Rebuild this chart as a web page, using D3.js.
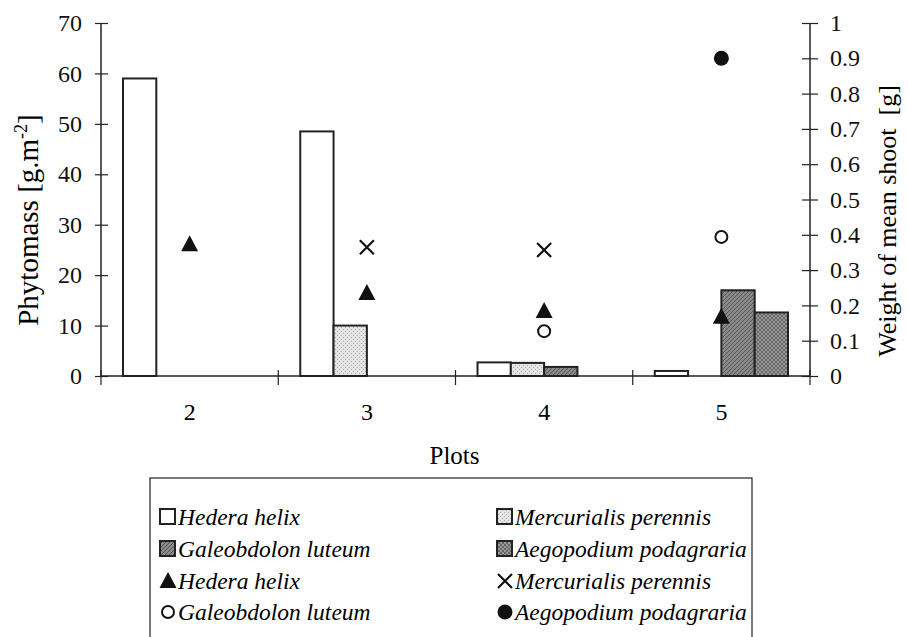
<!DOCTYPE html>
<html>
<head>
<meta charset="utf-8">
<script src="https://cdn.jsdelivr.net/npm/d3@7"></script>
</head>
<body style="margin:0">
<svg id="canvas"></svg>
<script>
// Plots on the x axis
var plots = ['2', '3', '4', '5'];
var species = ['Hedera helix', 'Mercurialis perennis', 'Galeobdolon luteum', 'Aegopodium podagraria'];

// Phytomass [g.m-2], one value per plot (bars, left axis)
var hederaMass = [59, 48.5, 2.7, 1.0];
var mercurialisMass = [0, 10, 2.6, 0];
var galeobdolonMass = [0, 0, 1.8, 17];
var aegopodiumMass = [0, 0, 0, 12.6];

// Weight of mean shoot [g] (markers, right axis)
var hederaWeight = [0.373, 0.235, 0.184, 0.168];
var mercurialisWeight = [null, 0.365, 0.357, null];
var galeobdolonWeight = [null, null, 0.127, 0.394];
var aegopodiumWeight = [null, null, null, 0.90];

var leftTicks = [0, 10, 20, 30, 40, 50, 60, 70];
var rightTicks = [0, 0.1, 0.2, 0.3, 0.4, 0.5, 0.6, 0.7, 0.8, 0.9, 1];

var serif = "'Times New Roman'";

var canvasWidth = 908;
var canvasHeight = 637;
var margin = { top: 23, right: 98, bottom: 261, left: 101 };
var plotW = canvasWidth - margin.left - margin.right;
var plotH = canvasHeight - margin.top - margin.bottom;

var svg = d3.select('#canvas')
  .attr('width', canvasWidth)
  .attr('height', canvasHeight);

// Fill patterns
var defs = svg.append('defs');

function addPattern(id, bg, draw) {
  var p = defs.append('pattern')
    .attr('id', id)
    .attr('patternUnits', 'userSpaceOnUse')
    .attr('width', 4)
    .attr('height', 4);
  p.append('rect').attr('width', 4).attr('height', 4).attr('fill', bg);
  draw(p);
}

addPattern('pat-merc', '#e4e4e4', function(p) {
  p.append('rect').attr('x', 0).attr('y', 0).attr('width', 1).attr('height', 1).attr('fill', '#aaa');
  p.append('rect').attr('x', 2).attr('y', 2).attr('width', 1).attr('height', 1).attr('fill', '#aaa');
});
addPattern('pat-gal', '#8a8a8a', function(p) {
  p.append('path').attr('d', 'M-1,1 L1,-1 M0,4 L4,0 M3,5 L5,3').attr('stroke', '#555').attr('stroke-width', 1);
});
addPattern('pat-aeg', '#999', function(p) {
  p.append('rect').attr('x', 0).attr('y', 0).attr('width', 2).attr('height', 2).attr('fill', '#666');
  p.append('rect').attr('x', 2).attr('y', 2).attr('width', 2).attr('height', 2).attr('fill', '#666');
});

var fills = ['#fff', 'url(#pat-merc)', 'url(#pat-gal)', 'url(#pat-aeg)'];
var massSeries = [hederaMass, mercurialisMass, galeobdolonMass, aegopodiumMass];
var weightSeries = [hederaWeight, mercurialisWeight, galeobdolonWeight, aegopodiumWeight];
var markerTypes = ['triangle', 'cross', 'circle', 'dot'];

// Scales
var x0 = d3.scaleBand().domain(plots).range([0, plotW]);
var x1 = d3.scaleBand().domain(species).range([22, x0.bandwidth() - 22]);
var yLeft = d3.scaleLinear().domain([0, 70]).range([plotH, 0]);
var yRight = d3.scaleLinear().domain([0, 1]).range([plotH, 0]);

var g = svg.append('g')
  .attr('transform', 'translate(' + margin.left + ',' + margin.top + ')');

// Bars
var barRows = [];
plots.forEach(function(p, i) {
  species.forEach(function(s, j) {
    if (massSeries[j][i] > 0) barRows.push({ plot: p, sp: s, idx: j, v: massSeries[j][i] });
  });
});

g.selectAll('.bar')
  .data(barRows)
  .enter()
  .append('rect')
  .attr('class', 'bar')
  .attr('x', function(d) { return x0(d.plot) + x1(d.sp); })
  .attr('y', function(d) { return yLeft(d.v); })
  .attr('width', x1.bandwidth())
  .attr('height', function(d) { return plotH - yLeft(d.v); })
  .attr('fill', function(d) { return fills[d.idx]; })
  .attr('stroke', '#222')
  .attr('stroke-width', 2);

// Marker drawing
function drawMarker(sel, type, cx, cy) {
  if (type === 'triangle') {
    sel.append('path')
      .attr('d', 'M' + cx + ',' + (cy - 9) + 'L' + (cx + 8.5) + ',' + (cy + 7) + 'L' + (cx - 8.5) + ',' + (cy + 7) + 'Z')
      .attr('fill', '#111');
  } else if (type === 'cross') {
    sel.append('path')
      .attr('d', 'M' + (cx - 7) + ',' + (cy - 7) + 'L' + (cx + 7) + ',' + (cy + 7) + 'M' + (cx + 7) + ',' + (cy - 7) + 'L' + (cx - 7) + ',' + (cy + 7))
      .attr('stroke', '#111').attr('stroke-width', 2.2).attr('fill', 'none');
  } else if (type === 'circle') {
    sel.append('circle').attr('cx', cx).attr('cy', cy).attr('r', 6)
      .attr('fill', '#fff').attr('stroke', '#111').attr('stroke-width', 2);
  } else {
    sel.append('circle').attr('cx', cx).attr('cy', cy).attr('r', 7.5).attr('fill', '#111');
  }
}

// Markers at band centre
var markerG = g.append('g').classed('markers', true);
weightSeries.forEach(function(series, j) {
  series.forEach(function(v, i) {
    if (v == null) return;
    drawMarker(markerG, markerTypes[j], x0(plots[i]) + x0.bandwidth() / 2, yRight(v));
  });
});

// X axis baseline and category ticks
g.append('line')
  .attr('x1', 0).attr('x2', plotW)
  .attr('y1', plotH).attr('y2', plotH)
  .attr('stroke', '#222').attr('stroke-width', 1.5);

var xTicks = plots.map(function(p) { return x0(p); }).concat([plotW]);
g.selectAll('.xtick')
  .data(xTicks)
  .enter()
  .append('line')
  .attr('x1', function(d) { return d; }).attr('x2', function(d) { return d; })
  .attr('y1', plotH - 6).attr('y2', plotH + 9)
  .attr('stroke', '#222').attr('stroke-width', 1.2);

g.selectAll('.xlabel')
  .data(plots)
  .enter()
  .append('text')
  .attr('x', function(d) { return x0(d) + x0.bandwidth() / 2; })
  .attr('y', plotH + 44)
  .attr('text-anchor', 'middle')
  .style('font-family', serif)
  .style('font-size', '24px')
  .text(function(d) { return d; });

g.append('text')
  .attr('x', plotW / 2 - 1)
  .attr('y', plotH + 88)
  .attr('text-anchor', 'middle')
  .style('font-family', serif)
  .style('font-size', '25px')
  .text('Plots');

// Left axis
var leftAxis = g.append('g')
  .call(d3.axisLeft(yLeft).tickValues(leftTicks).tickSize(6).tickPadding(13));
leftAxis.attr('font-family', serif);
leftAxis.select('.domain').attr('stroke', '#222').attr('stroke-width', 1.5).attr('d', 'M0,0V' + plotH);
leftAxis.selectAll('.tick line').attr('x1', 7).attr('stroke', '#222').attr('stroke-width', 1.2);
leftAxis.selectAll('.tick text').style('font-size', '24px').style('font-family', serif).attr('fill', '#111');

// Right axis
var rightAxis = g.append('g')
  .attr('transform', 'translate(' + plotW + ',0)')
  .call(d3.axisRight(yRight).tickValues(rightTicks).tickSize(8).tickPadding(12)
    .tickFormat(function(d) { return String(d); }));
rightAxis.attr('font-family', serif);
rightAxis.select('.domain').attr('stroke', '#222').attr('stroke-width', 1.5).attr('d', 'M0,0V' + plotH);
rightAxis.selectAll('.tick line').attr('x1', -8).attr('stroke', '#222').attr('stroke-width', 1.2);
rightAxis.selectAll('.tick text').style('font-size', '24px').style('font-family', serif).attr('fill', '#111');

// Axis titles
var leftTitle = svg.append('text')
  .attr('transform', 'translate(38,' + 220 + ') rotate(-90)')
  .attr('text-anchor', 'middle')
  .style('font-family', serif)
  .style('font-size', '29px');
leftTitle.append('tspan').text('Phytomass [g.m');
leftTitle.append('tspan').attr('dy', -11).style('font-size', '18px').text('-2');
leftTitle.append('tspan').attr('dy', 11).text(']');

svg.append('text')
  .attr('transform', 'translate(896,' + 221 + ') rotate(-90)')
  .attr('text-anchor', 'middle')
  .style('font-family', serif)
  .style('font-size', '26px')
  .text('Weight of mean shoot\u00a0\u00a0[g]');

// Legend
var legendItems = [];
species.forEach(function(s, j) { legendItems.push({ label: s, kind: 'bar', idx: j }); });
species.forEach(function(s, j) { legendItems.push({ label: s, kind: 'marker', idx: j }); });

var legend = svg.append('g').classed('legend', true);
legend.append('rect')
  .attr('x', 150).attr('y', 478)
  .attr('width', 602).attr('height', 200)
  .attr('fill', 'none').attr('stroke', '#222').attr('stroke-width', 1.2);

var colX = [160, 497];
var rowY = [517, 549, 581, 612];

legendItems.forEach(function(d, i) {
  var cx = colX[i % 2];
  var cy = rowY[Math.floor(i / 2)];
  var item = legend.append('g');
  if (d.kind === 'bar') {
    item.append('rect')
      .attr('x', cx).attr('y', cy - 8)
      .attr('width', 15).attr('height', 15)
      .attr('fill', fills[d.idx])
      .attr('stroke', '#222').attr('stroke-width', 2);
  } else {
    drawMarker(item, markerTypes[d.idx], cx + 8, cy);
  }
  item.append('text')
    .attr('x', cx + 18)
    .attr('y', cy + 8)
    .style('font-family', serif)
    .style('font-size', '23.5px')
    .style('font-style', 'italic')
    .text(d.label);
});
</script>
</body>
</html>
